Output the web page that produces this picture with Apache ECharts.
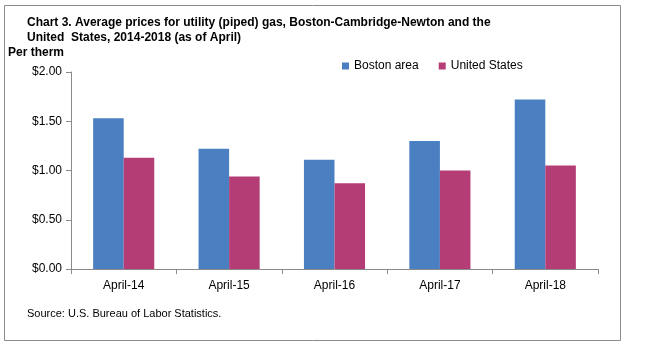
<!DOCTYPE html>
<html><head><meta charset="utf-8">
<script src="https://cdn.jsdelivr.net/npm/echarts@6/dist/echarts.min.js"></script>
<style>html,body{margin:0;padding:0;background:#fff}#c{width:649px;height:348px}</style>
</head><body><div id="c"></div>
<script>
const categories = ['April-14','April-15','April-16','April-17','April-18'];
const bostonArea = [1.53, 1.22, 1.11, 1.30, 1.72];
const unitedStates = [1.13, 0.94, 0.87, 1.00, 1.05];
const yTicks = [0, 0.5, 1.0, 1.5, 2.0];

const chart = echarts.init(document.getElementById('c'));
const font = 'Liberation Sans, Arial, sans-serif';
chart.setOption({
  animation: false,
  backgroundColor: '#fff',
  title: {
    text: 'Chart 3. Average prices for utility (piped) gas, Boston-Cambridge-Newton and the\nUnited  States, 2014-2018 (as of April)',
    left: 22, top: 10,
    textStyle: {fontFamily: font, fontSize: 12, fontWeight: 'bold', color: '#000', lineHeight: 15}
  },
  graphic: [
    {type: 'rect', shape: {x: 4.5, y: 5.5, width: 616, height: 335}, style: {fill: 'none', stroke: '#8a8a8a', lineWidth: 1}, z: -1},
    {type: 'text', left: 8, top: 47, style: {text: 'Per therm', font: 'bold 12px ' + font, fill: '#000'}},
    {type: 'text', left: 27, top: 308, style: {text: 'Source: U.S. Bureau of Labor Statistics.', font: '11px ' + font, fill: '#000'}}
  ],
  legend: {
    data: ['Boston area', 'United States'],
    left: 337, top: 55,
    itemWidth: 7, itemHeight: 7, itemGap: 20,
    icon: 'rect',
    textStyle: {fontFamily: font, fontSize: 12, color: '#000'}
  },
  grid: {left: 71, right: 51, top: 72, bottom: 79},
  xAxis: {
    type: 'category', data: categories,
    axisLine: {lineStyle: {color: '#8a8a8a'}},
    axisTick: {show: true, alignWithLabel: false, length: 5, lineStyle: {color: '#8a8a8a'}},
    axisLabel: {fontFamily: font, fontSize: 12, color: '#000', margin: 11}
  },
  yAxis: {
    type: 'value', min: yTicks[0], max: yTicks[yTicks.length-1], interval: 0.5,
    axisLine: {show: true, lineStyle: {color: '#8a8a8a'}},
    axisTick: {show: true, length: 5, lineStyle: {color: '#8a8a8a'}},
    splitLine: {show: false},
    axisLabel: {fontFamily: font, fontSize: 12, color: '#000', margin: 9, formatter: v => '$' + v.toFixed(2)}
  },
  series: [
    {name: 'Boston area', type: 'bar', data: bostonArea, barGap: '0%', barCategoryGap: '42%', itemStyle: {color: '#4a7fc1'}},
    {name: 'United States', type: 'bar', data: unitedStates, barGap: '0%', barCategoryGap: '42%', itemStyle: {color: '#b53d76'}}
  ]
});
</script></body></html>
